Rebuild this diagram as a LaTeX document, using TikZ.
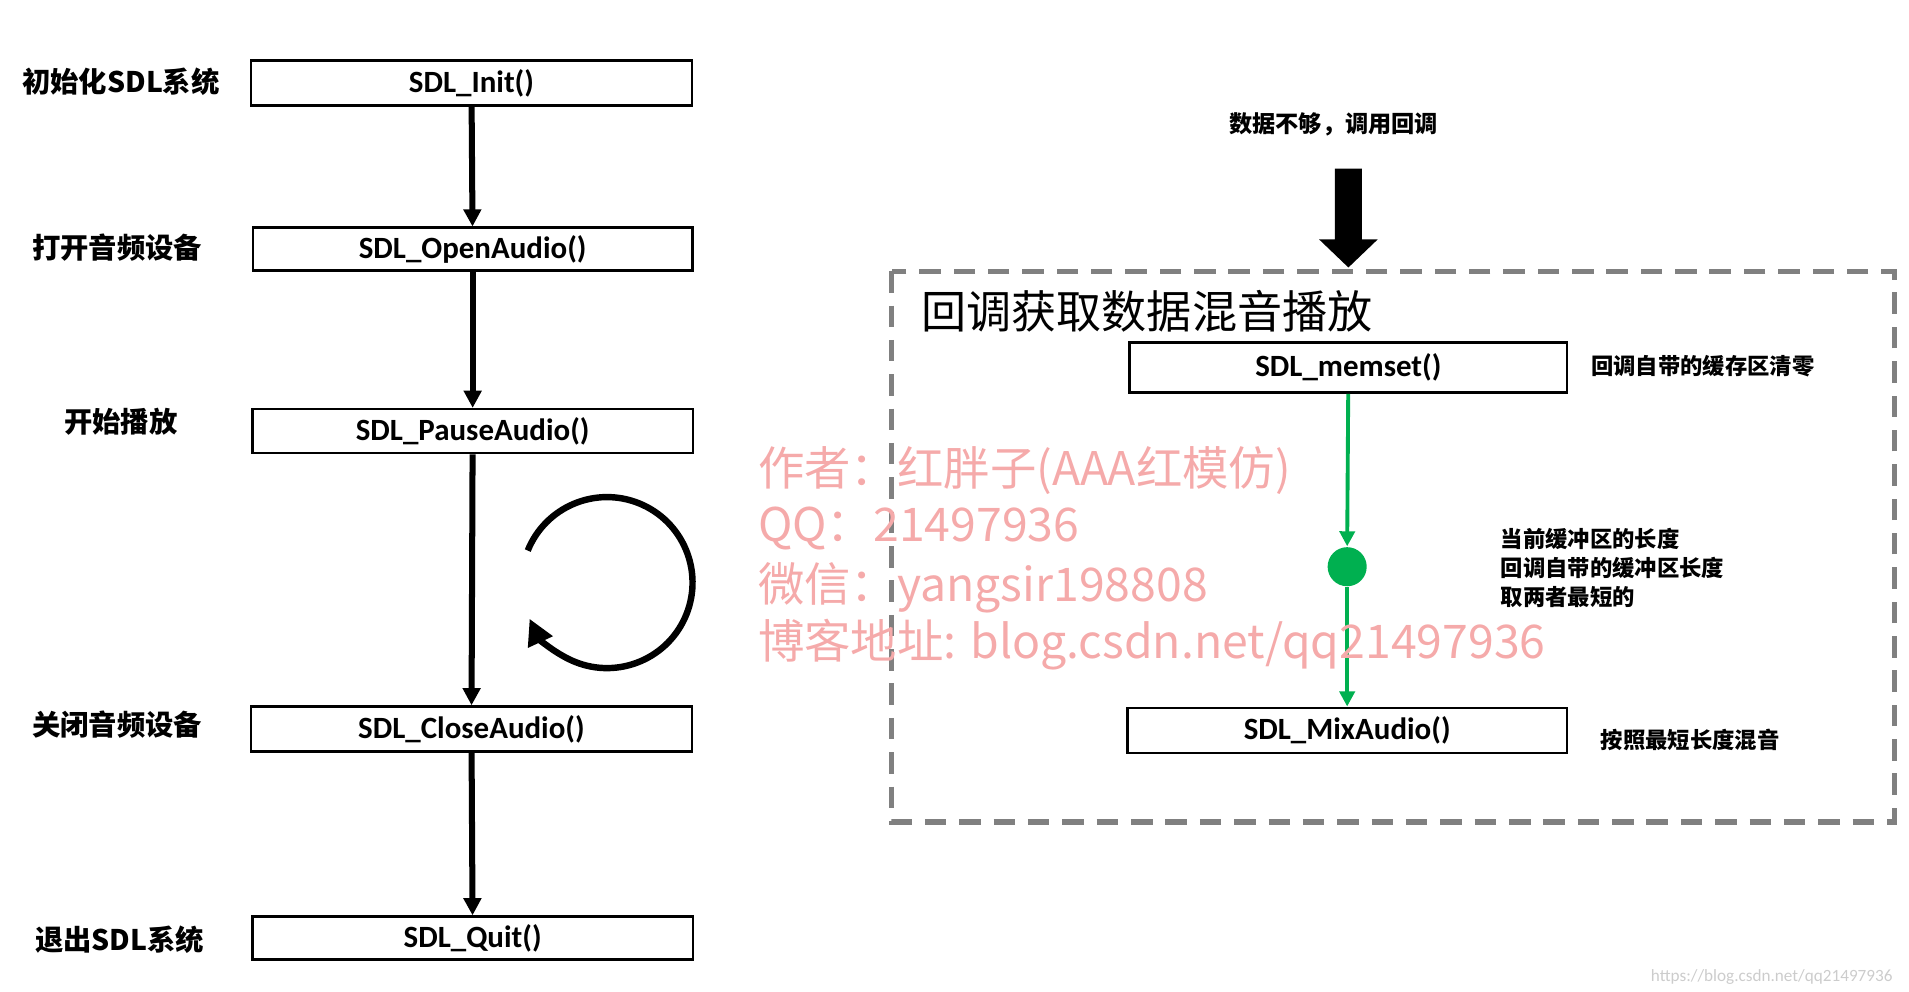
\documentclass[tikz,border=0pt]{standalone}
\usepackage{fontspec}
\setmainfont{Carlito}
\newfontfamily\cjk{Noto Sans CJK SC}
\usetikzlibrary{arrows.meta,positioning}
\begin{document}
\begin{tikzpicture}[x=0.01cm,y=-0.01cm,>=Triangle,
    fbox/.style={draw,line width=0.6pt,minimum height=10.5mm,font=\fontsize{7.2}{8}\selectfont\bfseries,inner sep=0pt},
    lab/.style={font=\cjk\fontsize{6.6}{7}\selectfont\bfseries},
    note/.style={font=\cjk\fontsize{5.2}{6.8}\selectfont\bfseries,align=left,anchor=west,inner sep=0pt},
    flow/.style={->,line width=1.4pt,>={Triangle[length=4pt,width=4pt]}},
    gflow/.style={->,line width=0.9pt,draw=mygreen,>={Triangle[length=3.5pt,width=3.5pt]}},
    wm/.style={anchor=west,inner sep=0pt,text=wmpink,font=\cjk\fontsize{10.8}{12}\selectfont}]
    \definecolor{mygreen}{RGB}{0,176,80}
    \definecolor{wmpink}{RGB}{245,170,170}
    \useasboundingbox (0,0) rectangle (1563,812);
    % left flow
    \node[fbox,minimum width=361*0.01cm,minimum height=37*0.01cm] (init) at (386,68) {SDL\_Init()};
    \node[fbox,minimum width=360*0.01cm,minimum height=35*0.01cm] (open) at (387,204) {SDL\_OpenAudio()};
    \node[fbox,minimum width=361*0.01cm,minimum height=36*0.01cm] (pause) at (387,353) {SDL\_PauseAudio()};
    \node[fbox,minimum width=361*0.01cm,minimum height=37*0.01cm] (close) at (386,597) {SDL\_CloseAudio()};
    \node[fbox,minimum width=361*0.01cm,minimum height=35*0.01cm] (quit) at (387,768) {SDL\_Quit()};
    \node[lab] at (99,67) {初始化SDL系统};
    \node[lab] at (96,203) {打开音频设备};
    \node[lab] at (99,345) {开始播放};
    \node[lab] at (96,593) {关闭音频设备};
    \node[lab] at (98,769) {退出SDL系统};
    \draw[flow] (init) -- (open);
    \draw[flow] (open) -- (pause);
    \draw[flow] (pause) -- (close);
    \draw[flow] (close) -- (quit);
    % loop
    \draw[line width=1.5pt,->,>={Triangle[length=6pt,width=6pt]}] (497,477) ++(202:70) arc (202:515:70);
    % callback part
    \draw[gray,dashed,line width=1.2pt,dash pattern=on 5pt off 3pt] (730,222) rectangle (1551,673);
    \node[anchor=west,font=\cjk\fontsize{10.5}{12}\selectfont] at (742,255) {回调获取数据混音播放};
    \node[lab,font=\cjk\fontsize{5.4}{6}\selectfont\bfseries] (need) at (1092,102) {数据不够，调用回调};
    \fill (1093,138) -- (1115,138) -- (1115,196) -- (1128,196) -- (1104,219) -- (1080,196) -- (1093,196) -- cycle;
    \node[fbox,minimum width=358*0.01cm,minimum height=41*0.01cm] (memset) at (1104,301) {SDL\_memset()};
    \node[fbox,minimum width=360*0.01cm,minimum height=37*0.01cm] (mix) at (1103,598) {SDL\_MixAudio()};
    \node[circle,fill=mygreen,minimum size=32*0.01cm,inner sep=0pt] (dot) at (1103,464) {};
    \draw[gflow] (memset) -- (dot.north);
    \draw[gflow] (dot) -- (mix);
    \node[note] at (1302,300) {回调自带的缓存区清零};
    \node[note] at (1310,606) {按照最短长度混音};
    \node[note] at (1228,465) {当前缓冲区的长度\\回调自带的缓冲区长度\\取两者最短的};
    % watermark
    \node[wm] at (620,385) {作者：红胖子(AAA红模仿)};
    \node[wm] at (620,433) {QQ：21497936};
    \node[wm] at (620,481) {微信：yangsir198808};
    \node[wm] at (620,528) {博客地址: blog.csdn.net/qq21497936};
    \node[anchor=east,text=gray!40,font=\fontsize{4}{5}\selectfont] at (1562,800) {https://blog.csdn.net/qq21497936};
\end{tikzpicture}
\end{document}
